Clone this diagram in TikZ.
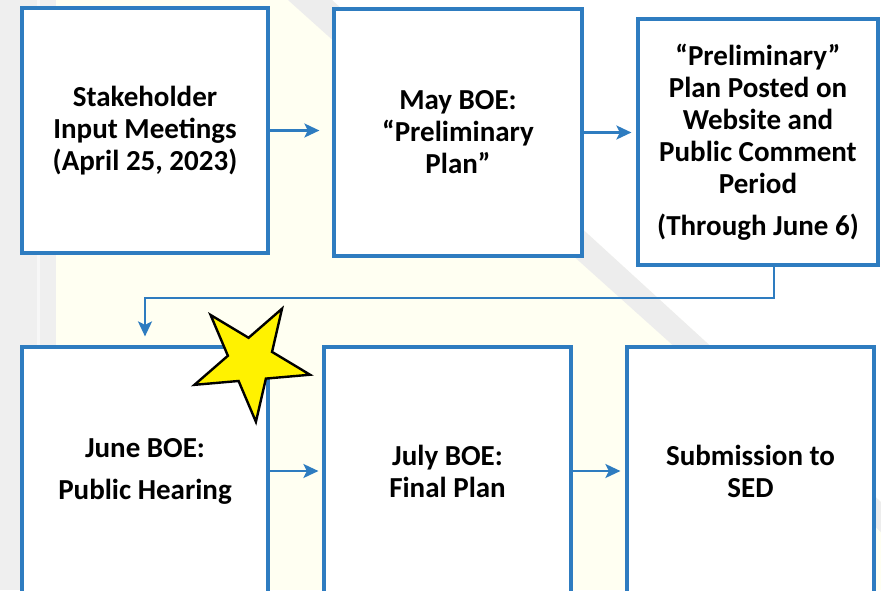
\documentclass[tikz,border=0pt]{standalone}
\usepackage{fontspec}
\setmainfont{Carlito}
\usetikzlibrary{arrows.meta,shapes.geometric}
\definecolor{boxblue}{HTML}{2E7CC0}
\definecolor{bgcream}{HTML}{FFFFF2}
\definecolor{bggray}{HTML}{EFEFEF}
\definecolor{bandgray}{HTML}{EDEDED}
\tikzset{
  stage/.style={draw=boxblue, line width=3.2pt, fill=white, align=center, inner sep=0pt,
    font=\fontsize{29}{32}\selectfont\bfseries},
  flow/.style={draw=boxblue, line width=2.2pt, -{Stealth[length=15pt,width=14pt,inset=3.5pt]}}
}
\begin{document}
\begin{tikzpicture}[x=1pt,y=-1pt]
\useasboundingbox (0,0) rectangle (881,590);
\clip (0,0) rectangle (881,590);
% background
\fill[bgcream] (0,0) rectangle (881,590);
\fill[bggray] (0,0) rectangle (56,590);
\fill[white!50!bggray] (37,0) rectangle (40,590);
\fill[white] (332,0) -- (881,0) -- (881,502) -- cycle;
\fill[bandgray] (288,0) -- (332,0) -- (881,502) -- (881,532) -- cycle;
% stages
\node[stage, minimum width=246pt, minimum height=245pt] (input) at (145,130.5)
  {Stakeholder\\Input Meetings\\(April 25, 2023)};
\node[stage, minimum width=248pt, minimum height=247pt] (may) at (458,132.5)
  {May BOE:\\“Preliminary\\Plan”};
\node[stage, minimum width=240pt, minimum height=246pt] (posted) at (758,142)
  {“Preliminary”\\Plan Posted on\\Website and\\Public Comment\\Period\\[10pt](Through June 6)};
\node[stage, minimum width=246pt, minimum height=248pt] (june) at (145,471)
  {June BOE:\\[10pt]Public Hearing};
\node[stage, minimum width=247pt, minimum height=248pt] (july) at (447.5,471)
  {July BOE:\\Final Plan};
\node[stage, minimum width=247pt, minimum height=248pt] (sed) at (750.5,471)
  {Submission to\\SED};
\coordinate (turn) at (774,298);
% arrows
\draw[flow, shorten >=13pt] (input.east) -- (input.east -| may.west);
\draw[flow, shorten >=5pt] (may.east) -- (may.east -| posted.west);
\draw[flow, shorten >=9pt] (posted.south -| turn) -- (turn) -| (june.north);
\draw[flow, shorten >=4pt] (june) -- (july);
\draw[flow, shorten >=5pt] (july) -- (sed);
% star
\node[star, star points=5, star point ratio=2.618, minimum size=122pt, inner sep=0pt,
  rotate=-31, draw=black, line width=2.4pt, fill=yellow] (mark) at (250.6,361) {};
\end{tikzpicture}
\end{document}
